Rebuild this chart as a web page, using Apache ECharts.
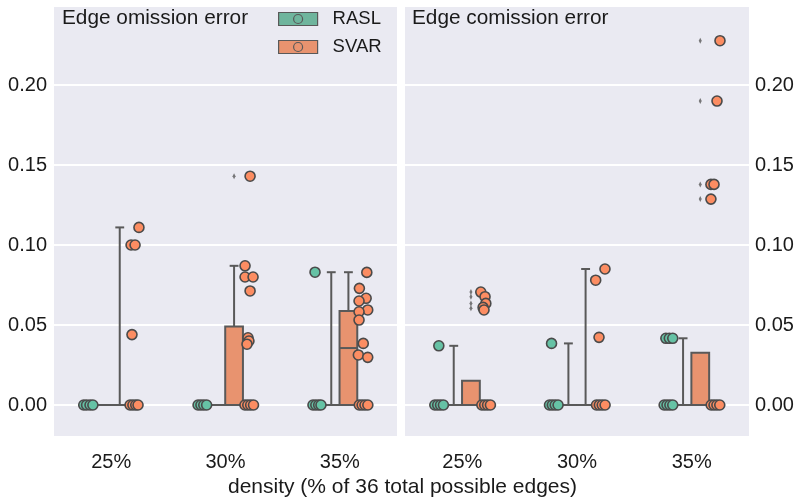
<!DOCTYPE html>
<html>
<head>
<meta charset="utf-8">
<title>edge error</title>
<style>
  body { margin: 0; padding: 0; background: #fff; }
  #main { width: 798px; height: 503px; }
</style>
</head>
<body>
<div id="main"></div>
<script src="https://cdn.jsdelivr.net/npm/echarts@6/dist/echarts.min.js"></script>
<script>
// categories on the x axis
var categories = ['25%', '30%', '35%'];

// box stats per category: [cat, low whisker, q1, median, q3, high whisker]
var omissionBoxRASL = [[0, 0, 0, 0, 0, 0], [1, 0, 0, 0, 0, 0], [2, 0, 0, 0, 0, 0.083]];
var omissionBoxSVAR = [[0, 0, 0, 0, 0, 0.111], [1, 0, 0, 0, 0.049, 0.087], [2, 0, 0, 0.0356, 0.0588, 0.083]];
var comissionBoxRASL = [[0, 0, 0, 0, 0, 0.037], [1, 0, 0, 0, 0, 0.0385], [2, 0, 0, 0, 0, 0.0417]];
var comissionBoxSVAR = [[0, 0, 0, 0, 0.0152, 0.0152], [1, 0, 0, 0, 0, 0.085], [2, 0, 0, 0, 0.0327, 0.0327]];

// box plot fliers (SVAR only): [cat, value]
var omissionFliersSVAR = [[1, 0.143]];
var comissionFliersSVAR = [[0, 0.0706], [0, 0.0677], [0, 0.0635], [0, 0.0604],
  [2, 0.2277], [2, 0.190], [2, 0.1379], [2, 0.1287]];

// strip points: [cat, value, jitter]
var omissionDotsRASL = [
  [0, 0, -0.035], [0, 0, -0.01], [0, 0, 0.02], [0, 0, 0.045],
  [1, 0, -0.035], [1, 0, -0.01], [1, 0, 0.015], [1, 0, 0.04],
  [2, 0, -0.03], [2, 0, -0.005], [2, 0, 0.02], [2, 0, 0.04],
  [2, 0.083, -0.012]
];
var omissionDotsSVAR = [
  [0, 0, -0.04], [0, 0, -0.015], [0, 0, 0.01], [0, 0, 0.03],
  [0, 0.111, 0.038], [0, 0.100, -0.031], [0, 0.100, 0.004], [0, 0.044, -0.023],
  [1, 0, -0.035], [1, 0, -0.01], [1, 0, 0.015], [1, 0, 0.04],
  [1, 0.143, 0.01], [1, 0.087, -0.034], [1, 0.080, -0.034], [1, 0.080, 0.036],
  [1, 0.0713, 0.01], [1, 0.042, -0.008], [1, 0.040, 0.0], [1, 0.038, -0.017],
  [2, 0, -0.035], [2, 0, -0.01], [2, 0, 0.015], [2, 0, 0.04],
  [2, 0.0829, 0.031], [2, 0.0729, -0.034], [2, 0.0667, 0.025], [2, 0.065, -0.037],
  [2, 0.0594, 0.039], [2, 0.0583, -0.037], [2, 0.0531, -0.037], [2, 0.0385, 0.0],
  [2, 0.0313, -0.043], [2, 0.0298, 0.039]
];
var comissionDotsRASL = [
  [0, 0, -0.035], [0, 0, -0.01], [0, 0, 0.015], [0, 0, 0.04],
  [0, 0.037, 0.0],
  [1, 0, -0.035], [1, 0, -0.01], [1, 0, 0.015], [1, 0, 0.04],
  [1, 0.0385, -0.017],
  [2, 0, -0.035], [2, 0, -0.01], [2, 0, 0.015], [2, 0, 0.04],
  [2, 0.0417, -0.02], [2, 0.0417, 0.01], [2, 0.0417, 0.04]
];
var comissionDotsSVAR = [
  [0, 0, -0.035], [0, 0, -0.01], [0, 0, 0.015], [0, 0, 0.04],
  [0, 0.0706, -0.044], [0, 0.0677, -0.007], [0, 0.0635, 0.0], [0, 0.061, -0.024], [0, 0.0594, -0.016],
  [1, 0, -0.035], [1, 0, -0.01], [1, 0, 0.015], [1, 0, 0.04],
  [1, 0.085, 0.039], [1, 0.078, -0.042], [1, 0.0423, -0.013],
  [2, 0, -0.035], [2, 0, -0.01], [2, 0, 0.015], [2, 0, 0.04],
  [2, 0.2277, 0.042], [2, 0.190, 0.016], [2, 0.1379, -0.037], [2, 0.1379, -0.01], [2, 0.1287, -0.037]
];

var DOT_OFF = 0.205, BOX_OFF = 0.075, BOX_W = 0.155;
var LINE = '#595959';
var dotColor = { RASL: '#66c2a5', SVAR: '#fc8d62' };
var boxColor = { RASL: '#6fb59d', SVAR: '#e8936f' };
var txt = '#1a1a1a';
var font = 'Liberation Sans, Arial, sans-serif';

var myChart = echarts.init(document.getElementById('main'));

function dots(arr, side) {
  return arr.map(function (d) { return [d[0] + side * DOT_OFF + d[2], d[1]]; });
}
function fliers(arr) {
  return arr.map(function (d) { return [d[0] + BOX_OFF, d[1]]; });
}
function boxes(rasl, svar) {
  var out = [];
  rasl.forEach(function (b) { out.push([b[0], -1].concat(b.slice(1))); });
  svar.forEach(function (b) { out.push([b[0], 1].concat(b.slice(1))); });
  return out;
}

function renderBox(params, api) {
  var side = api.value(1);
  var xc = api.value(0) + side * BOX_OFF;
  var lo = api.value(2), q1 = api.value(3), med = api.value(4), q3 = api.value(5), hi = api.value(6);
  var half = api.size([BOX_W, 0])[0] / 2;
  var c = function (v) { return api.coord([xc, v]); };
  var st = { stroke: LINE, lineWidth: 2 };
  var kids = [];
  if (hi > q3) {
    kids.push({ type: 'line', shape: { x1: c(q3)[0], y1: c(q3)[1], x2: c(hi)[0], y2: c(hi)[1] }, style: st });
    kids.push({ type: 'line', shape: { x1: c(hi)[0] - half / 2, y1: c(hi)[1], x2: c(hi)[0] + half / 2, y2: c(hi)[1] }, style: st });
  }
  if (lo < q1) {
    kids.push({ type: 'line', shape: { x1: c(q1)[0], y1: c(q1)[1], x2: c(lo)[0], y2: c(lo)[1] }, style: st });
  }
  var top = c(q3), bot = c(q1);
  kids.push({
    type: 'rect',
    shape: { x: top[0] - half, y: top[1], width: half * 2, height: bot[1] - top[1] },
    style: { fill: side < 0 ? boxColor.RASL : boxColor.SVAR, stroke: LINE, lineWidth: 2 }
  });
  var m = c(med);
  kids.push({ type: 'line', shape: { x1: m[0] - half, y1: m[1], x2: m[0] + half, y2: m[1] }, style: st });
  return { type: 'group', children: kids };
}

function yAxis(idx, pos) {
  return {
    type: 'value', gridIndex: idx, position: pos,
    min: -0.02, max: 0.2494, splitNumber: 5,
    axisLine: { show: false }, axisTick: { show: false },
    axisLabel: {
      show: true, margin: pos == 'left' ? 7 : 6, fontSize: 20, color: txt, fontFamily: font,
      showMinLabel: false, showMaxLabel: false,
      formatter: function (v) {
        var k = Math.round(v / 0.05);
        return Math.abs(k * 0.05 - v) < 1e-6 ? v.toFixed(2) : '';
      }
    },
    splitLine: { lineStyle: { color: '#fff', width: 2 } }
  };
}

var legendIcon = 'path://M0,0L39,0L39,13L0,13Z M24,6.5A4.5,4.5,0,1,1,15,6.5A4.5,4.5,0,1,1,24,6.5Z';

var panels = [
  { box: boxes(omissionBoxRASL, omissionBoxSVAR), r: omissionDotsRASL, s: omissionDotsSVAR, f: omissionFliersSVAR },
  { box: boxes(comissionBoxRASL, comissionBoxSVAR), r: comissionDotsRASL, s: comissionDotsSVAR, f: comissionFliersSVAR }
];

var series = [];
panels.forEach(function (p, i) {
  var ax = { xAxisIndex: i * 2, yAxisIndex: i };
  series.push(Object.assign({ type: 'custom', name: 'box' + i, renderItem: renderBox, data: p.box, z: 2, silent: true, encode: { x: 0, y: [2, 6] } }, ax));
  series.push(Object.assign({ type: 'scatter', name: 'fliers' + i, data: fliers(p.f), symbol: 'diamond', symbolSize: [3, 6], itemStyle: { color: LINE }, z: 3 }, ax));
  series.push(Object.assign({
    type: 'scatter', name: 'RASL', data: dots(p.r, -1), symbolSize: 10, z: 4,
    itemStyle: { color: dotColor.RASL, borderColor: '#4a4a4a', borderWidth: 1.6, opacity: 1 }
  }, ax));
  series.push(Object.assign({
    type: 'scatter', name: 'SVAR', data: dots(p.s, 1), symbolSize: 10, z: 4,
    itemStyle: { color: dotColor.SVAR, borderColor: '#4a4a4a', borderWidth: 1.6, opacity: 1 }
  }, ax));
});

myChart.setOption({
  animation: false,
  textStyle: { fontFamily: font },
  title: [
    { text: 'Edge omission error', left: 62, top: 8, padding: 0, textStyle: { fontSize: 20.8, fontWeight: 'normal', color: txt, fontFamily: font } },
    { text: 'Edge comission error', left: 412, top: 8, padding: 0, textStyle: { fontSize: 20.8, fontWeight: 'normal', color: txt, fontFamily: font } },
    { text: 'density (% of 36 total possible edges)', left: 228, top: 477, padding: 0, textStyle: { fontSize: 21, fontWeight: 'normal', color: txt, fontFamily: font } }
  ],
  legend: {
    orient: 'vertical', left: 278, top: 9, padding: 0,
    itemWidth: 39, itemHeight: 13, itemGap: 8, selectedMode: false,
    textStyle: { fontSize: 18.5, color: txt, fontFamily: font, padding: [0, 0, 0, 10], lineHeight: 20 },
    data: [
      { name: 'RASL', icon: legendIcon, itemStyle: { color: boxColor.RASL, borderColor: LINE, borderWidth: 1.2 } },
      { name: 'SVAR', icon: legendIcon, itemStyle: { color: boxColor.SVAR, borderColor: LINE, borderWidth: 1.2 } }
    ]
  },
  grid: [
    { left: 54, top: 6, width: 343, height: 431, show: true, backgroundColor: '#eaeaf2', borderWidth: 0 },
    { left: 405, top: 6, width: 344, height: 431, show: true, backgroundColor: '#eaeaf2', borderWidth: 0 }
  ],
  xAxis: [
    { type: 'value', gridIndex: 0, min: -0.5, max: 2.5, show: false, position: 'top' },
    { type: 'category', gridIndex: 0, data: categories, position: 'bottom',
      axisLine: { show: false }, axisTick: { show: false }, splitLine: { show: false },
      axisLabel: { fontSize: 20, color: txt, margin: 15, fontFamily: font } },
    { type: 'value', gridIndex: 1, min: -0.5, max: 2.5, show: false, position: 'top' },
    { type: 'category', gridIndex: 1, data: categories, position: 'bottom',
      axisLine: { show: false }, axisTick: { show: false }, splitLine: { show: false },
      axisLabel: { fontSize: 20, color: txt, margin: 15, fontFamily: font } }
  ],
  yAxis: [yAxis(0, 'left'), yAxis(1, 'right')],
  series: series
});

window.addEventListener('resize', function () { myChart.resize(); });
</script>
</body>
</html>
